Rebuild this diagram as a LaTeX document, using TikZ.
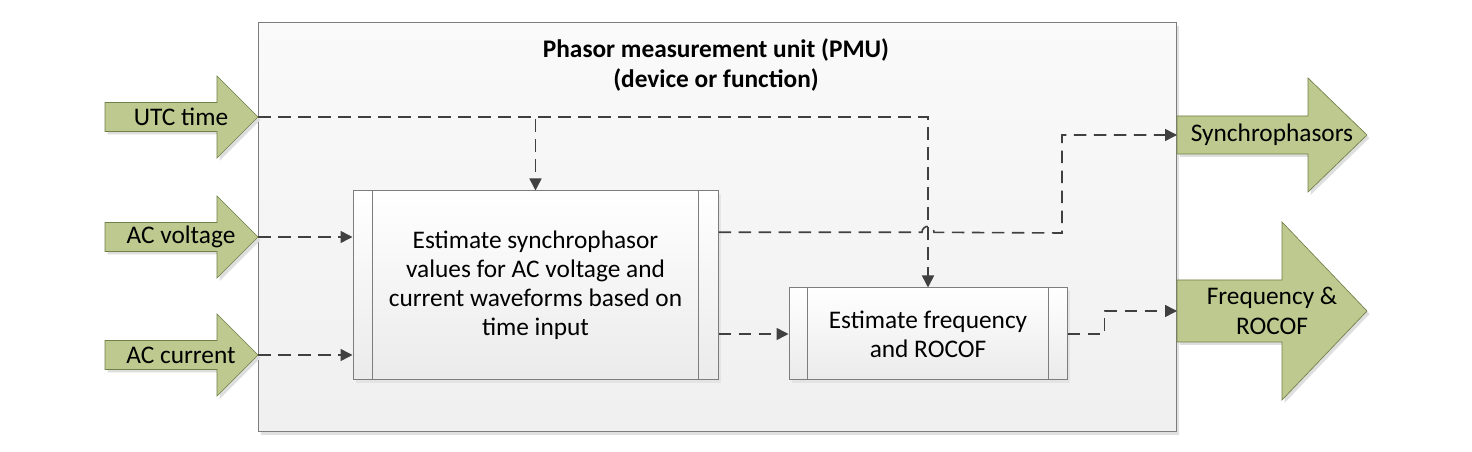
\documentclass[tikz,border=0pt]{standalone}
\usepackage{fontspec}
\setmainfont{Carlito}
\usetikzlibrary{arrows.meta,calc,shadows}
\definecolor{arrowgreen}{RGB}{189,201,143}
\definecolor{arrowedge}{RGB}{112,128,72}
\definecolor{linegray}{RGB}{64,64,64}
\definecolor{boxedge}{RGB}{125,125,125}
\tikzset{
  flow/.style={dash pattern=on 9.5pt off 5.5pt,line width=1.2pt,draw=linegray,-{Triangle[length=9pt,width=9pt]}},
  greenarrow/.style={fill=arrowgreen,draw=arrowedge,line width=.5pt},
  arrowshadow/.style={fill=black!13,shift={(2.5,3)}},
  stepbox/.style={draw=boxedge,line width=.75pt,top color=white,bottom color=black!8,
    drop shadow={shadow xshift=2pt,shadow yshift=-2pt,fill=black!15},align=center,inner sep=0pt},
  txt/.style={font=\fontsize{19}{22}\selectfont,align=center,inner sep=0pt},
  titletxt/.style={font=\fontsize{19}{22.5}\selectfont\bfseries,align=center,inner sep=0pt},
}
\begin{document}
\begin{tikzpicture}[x=.75pt,y=-.75pt]
  \useasboundingbox (0,0) rectangle (1472,452);
  % PMU frame
  \fill[black!12] (261,26) rectangle (1179,435);
  \draw[boxedge,line width=.75pt,top color=black!2,bottom color=black!6] (258,23) rectangle (1176,432);
  \node[titletxt] (pmu) at (716,65) {Phasor measurement unit (PMU)\\(device or function)};
  % inputs
  \foreach \yc/\nm/\txt in {117/utc/UTC time,237/volt/AC voltage,355/curr/AC current}{
    \fill[arrowshadow] (105,\yc-14.5) -- (217,\yc-14.5) -- (217,\yc-41) -- (258,\yc) -- (217,\yc+41) -- (217,\yc+14.5) -- (105,\yc+14.5) -- cycle;
    \draw[greenarrow] (105,\yc-14.5) -- (217,\yc-14.5) -- (217,\yc-41) -- (258,\yc) -- (217,\yc+41) -- (217,\yc+14.5) -- (105,\yc+14.5) -- cycle;
    \node[txt] (\nm) at (181,\yc) {\txt};
    \coordinate (\nm tip) at (258,\yc);
  }
  % outputs
  \fill[arrowshadow] (1177,116) -- (1308,116) -- (1308,78) -- (1367,135) -- (1308,192) -- (1308,154) -- (1177,154) -- cycle;
  \draw[greenarrow] (1177,116) -- (1308,116) -- (1308,78) -- (1367,135) -- (1308,192) -- (1308,154) -- (1177,154) -- cycle;
  \fill[arrowshadow] (1177,280) -- (1282,280) -- (1282,222) -- (1367,311) -- (1282,400) -- (1282,342) -- (1177,342) -- cycle;
  \draw[greenarrow] (1177,280) -- (1282,280) -- (1282,222) -- (1367,311) -- (1282,400) -- (1282,342) -- (1177,342) -- cycle;
  \node[txt] (syn) at (1272,135) {Synchrophasors};
  \node[txt] (rocof) at (1272,311) {Frequency \&\\ROCOF};
  \coordinate (syntail) at (1177,135);
  \coordinate (rocoftail) at (1177,311);
  % processing steps
  \node[stepbox,minimum width=273.75pt,minimum height=141.75pt,font=\fontsize{19}{21.75}\selectfont] (est) at (535.5,285.5)
    {Estimate synchrophasor\\values for AC voltage and\\current waveforms based on\\time input};
  \draw[boxedge,line width=.75pt] ([xshift=15pt]est.north west) -- ([xshift=15pt]est.south west)
    ([xshift=-15pt]est.north east) -- ([xshift=-15pt]est.south east);
  \node[stepbox,minimum width=208.5pt,minimum height=69pt,font=\fontsize{19}{21.75}\selectfont] (freq) at (928,334)
    {Estimate frequency\\and ROCOF};
  \draw[boxedge,line width=.75pt] ([xshift=14.25pt]freq.north west) -- ([xshift=14.25pt]freq.south west)
    ([xshift=-14.25pt]freq.north east) -- ([xshift=-14.25pt]freq.south east);
  \coordinate (estout) at ($(est.north east)!.22!(est.south east)$);
  % flows
  \draw[flow] (utctip) -| (est.north);
  \draw[flow] (utctip) -| (freq.north);
  \draw[flow] (volttip) -- (est.west |- volttip);
  \draw[flow] (currtip) -- (est.west |- currtip);
  \draw[flow] (estout) -- ([xshift=-4.5pt]freq.north |- estout) arc[start angle=180,end angle=0,radius=4.5pt] -- (1062,233) |- (syntail);
  \draw[flow] (est.east |- freq.west) -- (freq.west);
  \draw[flow] (freq.east) -- ++(27.75pt,0) |- (rocoftail);
\end{tikzpicture}
\end{document}
